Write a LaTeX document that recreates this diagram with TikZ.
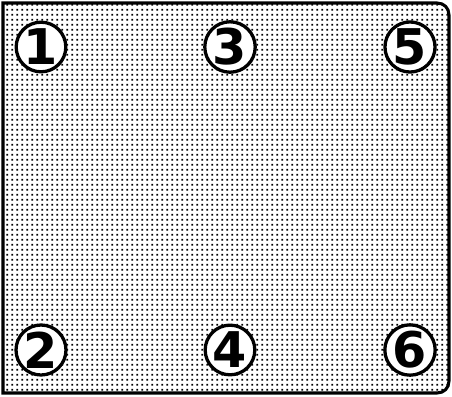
\documentclass[tikz,border=0pt]{standalone}
\usepackage{fontspec}
\setsansfont{DejaVu Sans}
\usetikzlibrary{patterns}
\pgfdeclarepatternformonly{finedots}{\pgfpointorigin}{\pgfqpoint{4pt}{4pt}}{\pgfqpoint{4pt}{4pt}}{%
  \pgfpathrectangle{\pgfqpoint{1.2pt}{1.2pt}}{\pgfqpoint{1.6pt}{1.6pt}}\pgfusepath{fill}}
\begin{document}
\begin{tikzpicture}[x=0.03cm,y=-0.03cm]
\tikzset{
  panel/.style={line width=2.6pt,pattern=finedots,pattern color=black},
  slotnode/.style={circle,draw,line width=2.8pt,fill=white,minimum size=1.4cm,inner sep=0pt,
    font=\sffamily\bfseries\fontsize{42}{42}\selectfont}
}
\useasboundingbox (0,0) rectangle (452,397);
\draw[panel] (3,3) -- (437,3) .. controls (444,3) and (449,8) .. (449,15) -- (449,381)
  .. controls (449,388) and (444,393) .. (437,393) -- (3,393) -- cycle;
\node[slotnode] (n_1) at (41,47) {1};
\node[slotnode] (n_3) at (230,47) {3};
\node[slotnode] (n_5) at (410,47) {5};
\node[slotnode] (n_2) at (41,350) {2};
\node[slotnode] (n_4) at (230,350) {4};
\node[slotnode] (n_6) at (410,350) {6};
\end{tikzpicture}
\end{document}
